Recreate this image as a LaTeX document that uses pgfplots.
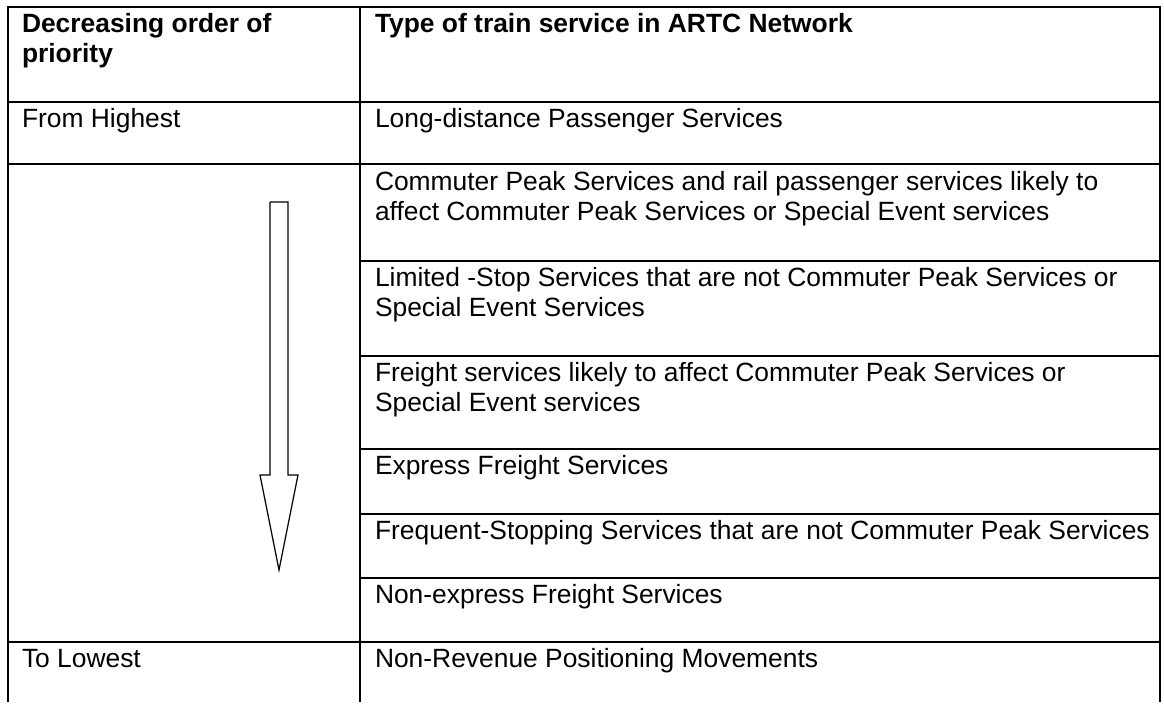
\documentclass[border=0pt]{standalone}
\usepackage{fontspec}
\setmainfont{Liberation Sans}
\usepackage{pgfplots}
\pgfplotsset{compat=1.18}
\begin{document}
\begin{tikzpicture}[every node/.style={font=\fontsize{13.2pt}{15pt}\selectfont, inner sep=0pt, outer sep=0pt}]
\begin{axis}[
  width=582pt, height=351pt, scale only axis,
  xmin=0, xmax=1164, ymin=0, ymax=702, y dir=reverse,
  hide axis, clip=false,
]
% background (sets picture size)
\addplot[draw=none, fill=white, forget plot] coordinates {(0,0) (1164,0) (1164,702) (0,702)};
% outer border
\addplot[black, line width=1.1pt, line join=miter] coordinates {(8,702) (8,7) (1160,7) (1160,702)};
% header and first row lines
\addplot[black, line width=0.9pt] coordinates {(8,102) (1160,102)};
\addplot[black, line width=0.9pt] coordinates {(8,164) (1160,164)};
% column divider
\addplot[black, line width=0.65pt] coordinates {(360,7) (360,702)};
% right-column row lines
\addplot[black, line width=0.65pt] coordinates {(360,261) (1160,261)};
\addplot[black, line width=0.65pt] coordinates {(360,356) (1160,356)};
\addplot[black, line width=0.65pt] coordinates {(360,449) (1160,449)};
\addplot[black, line width=0.65pt] coordinates {(360,514) (1160,514)};
\addplot[black, line width=0.65pt] coordinates {(360,578) (1160,578)};
% full-width last row line
\addplot[black, line width=0.65pt] coordinates {(8,642) (1160,642)};
% hollow arrow
\addplot[black, line width=0.6pt, fill=white, line join=miter] coordinates {(270,202) (288,202) (288,475) (298,475) (279,570) (260,475) (270,475) (270,202)};

% header text
\node[anchor=base west] at (axis cs:22,32) {\bfseries Decreasing order of};
\node[anchor=base west] at (axis cs:22,62) {\bfseries priority};
\node[anchor=base west] at (axis cs:375,32) {\bfseries Type of train service in ARTC Network};
% rows
\node[anchor=base west] at (axis cs:22,127) {From Highest};
\node[anchor=base west] at (axis cs:375,127) {Long-distance Passenger Services};
\node[anchor=base west] at (axis cs:375,190) {Commuter Peak Services and rail passenger services likely to};
\node[anchor=base west] at (axis cs:375,220) {affect Commuter Peak Services or Special Event services};
\node[anchor=base west] at (axis cs:375,286) {Limited -Stop Services that are not Commuter Peak Services or};
\node[anchor=base west] at (axis cs:375,316) {Special Event Services};
\node[anchor=base west] at (axis cs:375,381) {Freight services likely to affect Commuter Peak Services or};
\node[anchor=base west] at (axis cs:375,411) {Special Event services};
\node[anchor=base west] at (axis cs:375,474) {Express Freight Services};
\node[anchor=base west] at (axis cs:375,539) {Frequent-Stopping Services that are not Commuter Peak Services};
\node[anchor=base west] at (axis cs:375,603) {Non-express Freight Services};
\node[anchor=base west] at (axis cs:22,667) {To Lowest};
\node[anchor=base west] at (axis cs:375,667) {Non-Revenue Positioning Movements};
\end{axis}
\end{tikzpicture}
\end{document}
